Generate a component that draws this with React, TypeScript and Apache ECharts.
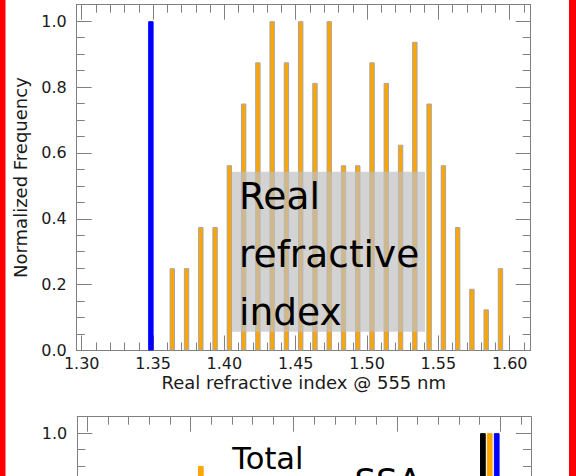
import React, { useEffect, useRef } from "react";
import * as echarts from "echarts";

// Upper panel: real refractive index histogram
const rriMajorTicks = [1.3, 1.35, 1.4, 1.45, 1.5, 1.55, 1.6];
const rriBinX = [
  1.3635, 1.3735, 1.3835, 1.3935, 1.4035, 1.4135, 1.4235, 1.4335, 1.4435, 1.4535, 1.4635, 1.4735,
  1.4835, 1.4935, 1.5035, 1.5135, 1.5235, 1.5335, 1.5435, 1.5535, 1.5635, 1.5735, 1.5835, 1.5935,
];
const rriFreq = [
  0.25, 0.25, 0.375, 0.375, 0.5625, 0.75, 0.875, 1.0, 0.875, 1.0, 0.8125, 1.0,
  0.5625, 0.5625, 0.875, 0.8125, 0.625, 0.9375, 0.75, 0.5625, 0.375, 0.1875, 0.125, 0.25,
];
const rriRefX = [1.3485];
const rriRefFreq = [1.0];

// Lower panel: total single scattering albedo histogram (only its top is in view)
const ssaMajorTicks = [0.8, 0.85, 0.9, 0.95, 1.0];
const ssaOrangeX = [0.855, 0.9949];
const ssaOrangeFreq = [0.9, 1.0];
const ssaBlackX = [0.9916];
const ssaBlackFreq = [1.0];
const ssaBlueX = [0.9983];
const ssaBlueFreq = [1.0];

const freqMajorTicks = [0, 0.2, 0.4, 0.6, 0.8, 1.0];
const rriFreqLabels = [0, 0.2, 0.4, 0.6, 0.8, 1.0];
const ssaFreqLabels = [1.0];

const FRAME = "#808080";
const TXT = "#1a1a1a";
const FONT = "DejaVu Sans";
const ORANGE = "#ffa500";
const EDGE = "#a6a6a6";

const VIEW_W = 576;
const VIEW_H = 476;
const CANVAS_H = 800;

function minorTicks(start: number, end: number, step: number, majors: number[]) {
  const out: number[] = [];
  const n = Math.round((end - start) / step);
  for (let i = 0; i <= n; i++) {
    const v = +(start + i * step).toFixed(4);
    if (!majors.some((m) => Math.abs(m - v) < 1e-9)) out.push(v);
  }
  return out;
}

const lineStyle = { color: FRAME, width: 1 };

function xAxes(
  gridIndex: number,
  min: number,
  max: number,
  majors: number[],
  minors: number[],
  name?: string
) {
  const base = { type: "value", gridIndex, min, max, splitLine: { show: false } };
  return [
    {
      ...base,
      position: "bottom",
      axisLine: { show: true, onZero: false, lineStyle },
      axisTick: { show: true, inside: true, length: 15, customValues: majors, lineStyle },
      axisLabel: name
        ? {
            show: true,
            customValues: majors,
            formatter: (v: number) => v.toFixed(2),
            margin: 5,
            color: TXT,
            fontFamily: FONT,
            fontSize: 16,
          }
        : { show: false },
      name: name,
      nameLocation: "middle",
      nameGap: 23,
      nameTextStyle: { color: TXT, fontFamily: FONT, fontSize: 18 },
    },
    {
      ...base,
      position: "bottom",
      axisLine: { show: false, onZero: false },
      axisTick: { show: true, inside: true, length: 8, customValues: minors, lineStyle },
      axisLabel: { show: false },
    },
    {
      ...base,
      position: "top",
      axisLine: { show: true, onZero: false, lineStyle },
      axisTick: { show: true, inside: true, length: 15, customValues: majors, lineStyle },
      axisLabel: { show: false },
    },
    {
      ...base,
      position: "top",
      axisLine: { show: false, onZero: false },
      axisTick: { show: true, inside: true, length: 8, customValues: minors, lineStyle },
      axisLabel: { show: false },
    },
  ];
}

function yAxes(gridIndex: number, majors: number[], minors: number[], labels: number[], name?: string) {
  const base = { type: "value", gridIndex, min: 0, max: 1.05, splitLine: { show: false } };
  return [
    {
      ...base,
      position: "left",
      axisLine: { show: true, onZero: false, lineStyle },
      axisTick: { show: true, inside: true, length: 15, customValues: majors, lineStyle },
      axisLabel: {
        show: true,
        customValues: labels,
        formatter: (v: number) => v.toFixed(1),
        margin: 10,
        color: TXT,
        fontFamily: FONT,
        fontSize: 16,
      },
      name,
      nameLocation: "middle",
      nameGap: 47,
      nameTextStyle: { color: TXT, fontFamily: FONT, fontSize: 18 },
    },
    {
      ...base,
      position: "left",
      axisLine: { show: false, onZero: false },
      axisTick: { show: true, inside: true, length: 8, customValues: minors, lineStyle },
      axisLabel: { show: false },
    },
    {
      ...base,
      position: "right",
      axisLine: { show: true, onZero: false, lineStyle },
      axisTick: { show: true, inside: true, length: 15, customValues: majors, lineStyle },
      axisLabel: { show: false },
    },
    {
      ...base,
      position: "right",
      axisLine: { show: false, onZero: false },
      axisTick: { show: true, inside: true, length: 8, customValues: minors, lineStyle },
      axisLabel: { show: false },
    },
  ];
}

function barSeries(
  name: string,
  axisIndex: number,
  xs: number[],
  ys: number[],
  color: string,
  edge: string,
  width: number
) {
  return {
    type: "bar",
    name,
    xAxisIndex: axisIndex,
    yAxisIndex: axisIndex,
    data: xs.map((x, i) => [x, ys[i]]),
    barWidth: width,
    barGap: "-100%",
    itemStyle: { color, borderColor: edge, borderWidth: 1 },
    emphasis: { disabled: true },
  };
}

export default function App() {
  const ref = useRef<HTMLDivElement>(null);

  useEffect(() => {
    if (!ref.current) return;
    const chart = echarts.init(ref.current, undefined, { renderer: "svg" });

    const freqMinor = minorTicks(0, 1.0, 0.05, freqMajorTicks);
    const rriMinor = minorTicks(1.3, 1.61, 0.01, rriMajorTicks);
    const ssaMinor = minorTicks(0.8, 1.01, 0.01, ssaMajorTicks);

    const textStyle = (size: number) => ({
      fontFamily: FONT,
      fontSize: size,
      fill: "#000",
      verticalAlign: "middle",
    });

    chart.setOption({
      animation: false,
      backgroundColor: "#ffffff",
      grid: [
        { left: 76.7, top: 4.7, width: 454, height: 345.8 },
        { left: 77.3, top: 416.7, width: 453.7, height: 345.3 },
      ],
      xAxis: [
        ...xAxes(0, 1.2965, 1.6147, rriMajorTicks, rriMinor, "Real refractive index @ 555 nm"),
        ...xAxes(1, 0.7952, 1.0149, ssaMajorTicks, ssaMinor),
      ],
      yAxis: [
        ...yAxes(0, freqMajorTicks, freqMinor, rriFreqLabels, "Normalized Frequency"),
        ...yAxes(1, freqMajorTicks, freqMinor, ssaFreqLabels),
      ],
      series: [
        barSeries("Retrieved", 0, rriBinX, rriFreq, ORANGE, EDGE, 5.4),
        barSeries("Reference", 0, rriRefX, rriRefFreq, "#0000ff", "#0000ff", 5.4),
        barSeries("Retrieved", 4, ssaOrangeX, ssaOrangeFreq, ORANGE, ORANGE, 5.7),
        barSeries("Black", 4, ssaBlackX, ssaBlackFreq, "#000000", "#000000", 5.7),
        barSeries("Reference", 4, ssaBlueX, ssaBlueFreq, "#0000ff", "#0000ff", 5.7),
      ],
      graphic: [
        { type: "rect", z: 100, shape: { x: 0, y: 0, width: 5.5, height: CANVAS_H }, style: { fill: "#ff0000" } },
        { type: "rect", z: 100, shape: { x: 569, y: 0, width: 7, height: CANVAS_H }, style: { fill: "#ff0000" } },
        {
          type: "rect",
          z: 50,
          shape: { x: 232, y: 171.7, width: 193, height: 160 },
          style: { fill: "#c0c0c0", opacity: 0.7 },
        },
        { type: "text", z: 51, x: 239, y: 196.4, style: { text: "Real", ...textStyle(37.5) } },
        { type: "text", z: 51, x: 239, y: 254.4, style: { text: "refractive", ...textStyle(37.5) } },
        { type: "text", z: 51, x: 239, y: 312.4, style: { text: "index", ...textStyle(37.5) } },
        { type: "text", z: 51, x: 232.3, y: 458.2, style: { text: "Total", ...textStyle(30.5) } },
        { type: "text", z: 51, x: 354.4, y: 481.3, style: { text: "SSA", ...textStyle(34) } },
      ],
    });

    return () => chart.dispose();
  }, []);

  return (
    <div
      style={{
        position: "fixed",
        left: 0,
        top: 0,
        width: VIEW_W,
        height: VIEW_H,
        overflow: "hidden",
        background: "#fff",
      }}
    >
      <div ref={ref} style={{ width: VIEW_W, height: CANVAS_H }} />
    </div>
  );
}
